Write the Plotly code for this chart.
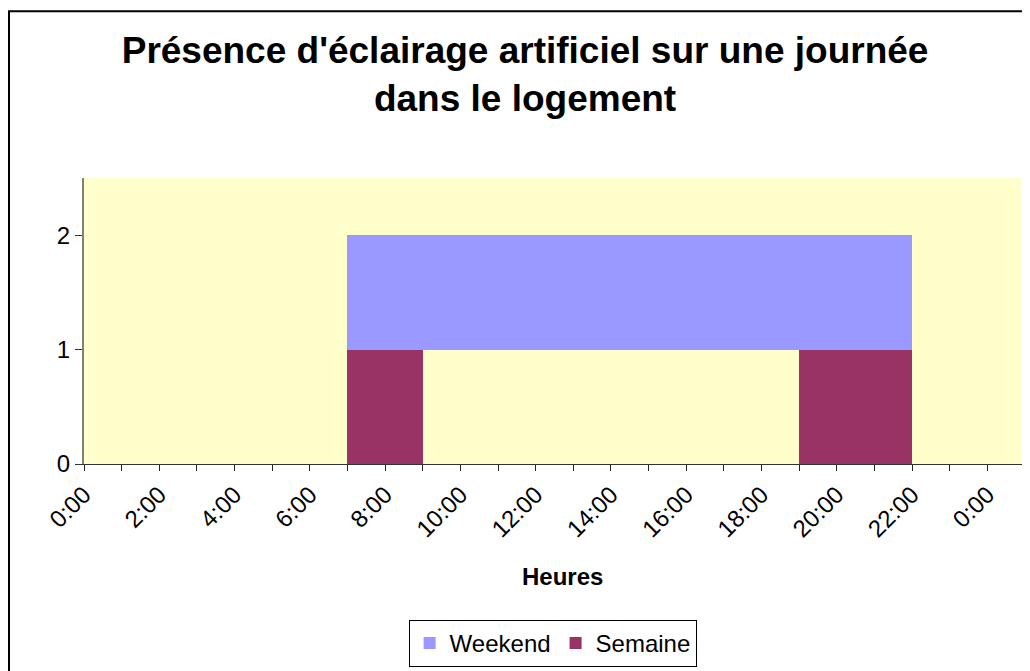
import plotly.graph_objects as go

# heures (début de chaque tranche d'une heure)
heures = list(range(25))
# 1 = lumière allumée pendant l'heure
semaine = [0, 0, 0, 0, 0, 0, 0, 1, 1, 0, 0, 0, 0, 0, 0, 0, 0, 0, 0, 1, 1, 1, 0, 0, 0]
weekend = [0, 0, 0, 0, 0, 0, 0, 1, 1, 1, 1, 1, 1, 1, 1, 1, 1, 1, 1, 1, 1, 1, 0, 0, 0]
niveau_weekend = 1  # la série weekend est posée au niveau 1

tick_pos = list(range(0, 26))
tick_txt = [("%d:00" % (h % 24)) if h % 2 == 0 and h <= 24 else "" for h in tick_pos]

fig = go.Figure()
fig.add_trace(go.Bar(x=heures, y=weekend, base=niveau_weekend, name="Weekend",
                     width=1, offset=0, marker=dict(color="#9999FF", line=dict(width=0))))
fig.add_trace(go.Bar(x=heures, y=semaine, base=0, name="Semaine",
                     width=1, offset=0, marker=dict(color="#993366", line=dict(width=0))))

fig.update_layout(
    width=1030, height=671,
    margin=dict(l=76, r=13, t=170, b=211),
    barmode="overlay", bargap=0,
    paper_bgcolor="white", plot_bgcolor="#FFFFCC",
    font=dict(family="Liberation Sans, Arial, sans-serif", size=24, color="black"),
    title=dict(text="<b>Présence d'éclairage artificiel sur une journée<br>dans le logement</b>",
               x=0.502, xanchor="center", y=0.918, yanchor="middle",
               font=dict(size=37)),
    legend=dict(orientation="h", x=0.498, xanchor="center", y=-0.545, yanchor="top",
                bordercolor="black", borderwidth=1, font=dict(size=24),
                itemwidth=30, tracegroupgap=0),
    showlegend=True,
)

fig.update_xaxes(range=[0, 25], tickmode="array", tickvals=tick_pos, ticktext=tick_txt,
                 tickangle=-45, ticks="outside", ticklen=6, tickcolor="#222222",
                 showline=True, linecolor="#333333", linewidth=1, showgrid=False,
                 zeroline=False)
fig.update_yaxes(range=[0, 2.5], tickvals=[0, 1, 2], ticks="outside", ticklen=7,
                 tickcolor="#333333", showline=True, linecolor="#808080", linewidth=2,
                 showgrid=False, zeroline=False)

# titre de l'axe des x
fig.add_annotation(text="<b>Heures</b>", xref="paper", yref="paper",
                   x=0.509, y=-0.393, xanchor="center", yanchor="middle",
                   showarrow=False, font=dict(size=24))

# cadre du graphique
fig.add_shape(type="rect", xref="paper", yref="paper",
              x0=(1 - 76) / 941, x1=(1040 - 76) / 941,
              y0=(460 - 690) / 290, y1=(460 - 1) / 290,
              line=dict(color="black", width=2), fillcolor="rgba(0,0,0,0)")

fig.write_html("out.html")
